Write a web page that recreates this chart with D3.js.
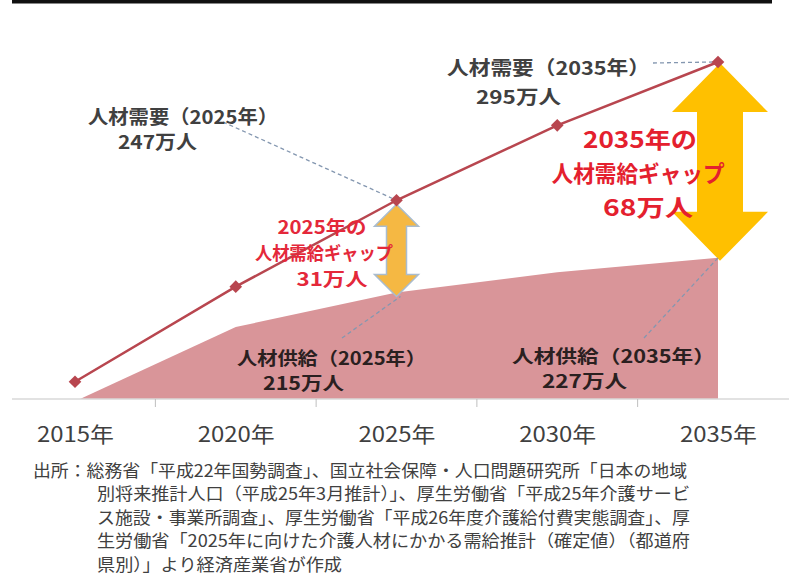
<!DOCTYPE html>
<html><head><meta charset="utf-8">
<script src="https://cdn.jsdelivr.net/npm/d3@7"></script>
<style>
body{margin:0;background:#fff}
svg{display:block;font-family:"Noto Sans CJK JP","Noto Sans",sans-serif}
</style>
</head><body>
<svg id="chart" width="789" height="574"></svg>
<script>
// ---- data ----
const years = ["2015年","2020年","2025年","2030年","2035年"];
const demand = [184, 217, 247, 273, 295];   // 人材需要（万人）
const supply = [178, 203, 215, 222, 227];   // 人材供給（万人）
const yMin = 178;
const demandLabels = [
  {year:"2025年", l1:"人材需要（2025年）", l2:"247万人"},
  {year:"2035年", l1:"人材需要（2035年）", l2:"295万人"}
];
const supplyLabels = [
  {year:"2025年", l1:"人材供給（2025年）", l2:"215万人"},
  {year:"2035年", l1:"人材供給（2035年）", l2:"227万人"}
];
const gap2025 = ["2025年の","人材需給ギャップ","31万人"];
const gap2035 = ["2035年の","人材需給ギャップ","68万人"];
const sourceLines = [
  "出所：総務省「平成22年国勢調査」、国立社会保障・人口問題研究所「日本の地域",
  "別将来推計人口（平成25年3月推計）」、厚生労働省「平成25年介護サービ",
  "ス施設・事業所調査」、厚生労働省「平成26年度介護給付費実態調査」、厚",
  "生労働省「2025年に向けた介護人材にかかる需給推計（確定値）（都道府",
  "県別）」より経済産業省が作成"
];

// ---- scales ----
const svg = d3.select("#chart");
const x = d3.scalePoint().domain(years).range([75, 718]);
const y = d3.scaleLinear().domain([yMin, 295]).range([399, 62]);
const dData = years.map((yr,i)=>({year:yr, v:demand[i]}));
const sData = years.map((yr,i)=>({year:yr, v:supply[i]}));
const idx = yr => years.indexOf(yr);

// top rule
svg.append("rect").attr("x",12).attr("y",0).attr("width",760).attr("height",3.5).attr("fill","#111");

// supply area
svg.append("path").datum(sData)
  .attr("fill","#d99599")
  .attr("d", d3.area().x(d=>x(d.year)+(d.year===years[0]?5:0)).y0(y(yMin)).y1(d=>y(d.v)));

// axis
svg.append("line").attr("x1",12).attr("x2",789).attr("y1",399).attr("y2",399)
  .attr("stroke","#d9d9d9").attr("stroke-width",1.5);
const ax = svg.append("g").attr("transform","translate(0,399)")
  .call(d3.axisBottom(x).tickSize(0).tickPadding(28));
ax.select(".domain").remove();
ax.selectAll("text").attr("font-size",21).attr("fill","#404040")
  .attr("font-family","'Noto Sans CJK JP',sans-serif")
  .attr("textLength",77).attr("lengthAdjust","spacingAndGlyphs");
for (let i=0;i<years.length-1;i++){
  const xm = (x(years[i])+x(years[i+1]))/2;
  svg.append("line").attr("x1",xm).attr("x2",xm).attr("y1",399).attr("y2",407)
    .attr("stroke","#bfbfbf").attr("stroke-width",1);
}

// arrows
function arrowPts(cx, yt, yb, hw, sw, hh){
  return [[cx,yt],[cx+hw/2,yt+hh],[cx+sw/2,yt+hh],[cx+sw/2,yb-hh],[cx+hw/2,yb-hh],
          [cx,yb],[cx-hw/2,yb-hh],[cx-sw/2,yb-hh],[cx-sw/2,yt+hh],[cx-hw/2,yt+hh]];
}
const line = d3.line();
{
  const i = idx("2025年"), cx = x("2025年");
  svg.append("path").attr("d", line(arrowPts(cx, y(demand[i])+4, y(supply[i])+4, 44, 20, 22))+"Z")
    .attr("fill","#f5b843").attr("stroke","#a9bccf").attr("stroke-width",1.5);
}
{
  const i = idx("2035年"), cx = x("2035年")+2;
  svg.append("path").attr("d", line(arrowPts(cx, y(demand[i])+1, y(supply[i])+3, 96, 46, 49))+"Z")
    .attr("fill","#ffc000");
}

// dashed leader lines
const dash = (x1,y1,x2,y2)=>svg.append("line").attr("x1",x1).attr("y1",y1).attr("x2",x2).attr("y2",y2)
  .attr("stroke","#8497b0").attr("stroke-width",1.3).attr("stroke-dasharray","4,3");
dash(223,122, x("2025年"), y(demand[idx("2025年")]));
dash(653,63, x("2035年")-4, y(demand[idx("2035年")]));
dash(342,338, x("2025年")+4, y(supply[idx("2025年")])+4);
dash(644,338, x("2035年"), y(supply[idx("2035年")]));

// demand line + markers
svg.append("path").datum(dData).attr("fill","none").attr("stroke","#b8464f").attr("stroke-width",2.5)
  .attr("d", d3.line().x(d=>x(d.year)).y(d=>y(d.v)));
svg.selectAll(".mk").data(dData).join("path")
  .attr("transform", d=>`translate(${x(d.year)},${y(d.v)}) rotate(45)`)
  .attr("d", d3.symbol().type(d3.symbolSquare).size(80))
  .attr("fill","#b8464f");

// text helper
function txt(str, xx, yy, size, color, len, anchor="start", weight="bold"){
  const t = svg.append("text").attr("x",xx).attr("y",yy).attr("font-size",size)
    .attr("fill",color).attr("font-weight",weight).attr("text-anchor",anchor)
    .attr("dominant-baseline","central").text(str);
  if (len) t.attr("textLength",len).attr("lengthAdjust","spacingAndGlyphs");
  return t;
}
// demand labels
txt(demandLabels[0].l1, 88, 115, 19, "#404040", 190);
txt(demandLabels[0].l2, 118, 140, 19, "#404040", 79);
txt(demandLabels[1].l1, 447, 66, 19, "#404040", 203);
txt(demandLabels[1].l2, 476, 95, 19, "#404040", 85);
// supply labels
txt(supplyLabels[0].l1, 237, 357, 18, "#2a2020", 189);
txt(supplyLabels[0].l2, 263, 382, 18, "#2a2020", 81);
txt(supplyLabels[1].l1, 512, 355, 18, "#2a2020", 203);
txt(supplyLabels[1].l2, 542, 380, 18, "#2a2020", 85);
// gap labels
const g25 = [{cx:322,len:89},{cx:324,len:138},{cx:332,len:71}];
gap2025.forEach((s,i)=>txt(s, g25[i].cx, 226+i*26, 18, "#e4283a", g25[i].len, "middle"));
const g35 = [{cx:640,len:114},{cx:638,len:173},{cx:648,len:90}];
gap2035.forEach((s,i)=>txt(s, g35[i].cx, 138+i*34, 23, "#e4202e", g35[i].len, "middle"));

// source
sourceLines.forEach((s,i)=>{
  const x0 = i===0 ? 33 : 97;
  const len = i===0 ? 654 : (i===4 ? 245 : 593);
  svg.append("text").attr("x",x0).attr("y",469+i*23.5).attr("font-size",17)
    .attr("fill","#404040").attr("dominant-baseline","central")
    .attr("textLength",len).attr("lengthAdjust","spacingAndGlyphs").text(s);
});
</script>
</body></html>
